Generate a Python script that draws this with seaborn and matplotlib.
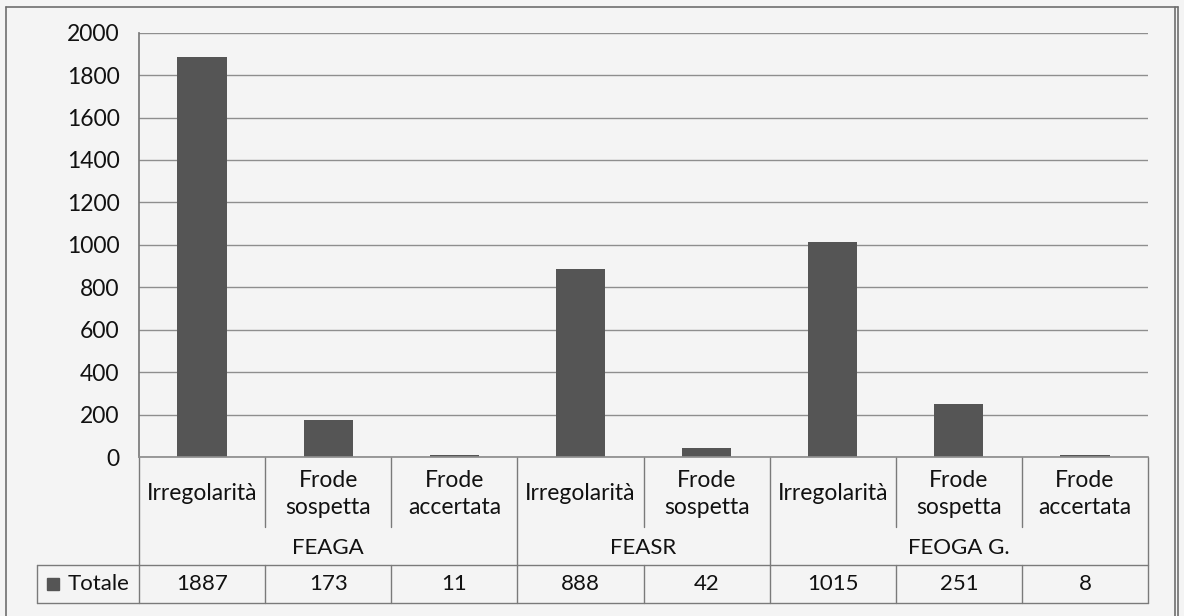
import matplotlib.pyplot as plt
import matplotlib.transforms as mtransforms
import pandas as pd
import seaborn as sns
from matplotlib.lines import Line2D

# Data
groups = ["FEAGA", "FEAGA", "FEAGA", "FEASR", "FEASR", "FEOGA G.", "FEOGA G.", "FEOGA G."]
categories = ["Irregolarità", "Frode\nsospetta", "Frode\naccertata",
              "Irregolarità", "Frode\nsospetta",
              "Irregolarità", "Frode\nsospetta", "Frode\naccertata"]
totals = [1887, 173, 11, 888, 42, 1015, 251, 8]
series_name = "Totale"
y_ticks = list(range(0, 2001, 200))

BG = "#f4f4f4"
BAR = "#555555"
GRID = "#8e8e8e"
LINE = "#7a7a7a"
TEXT = "#111111"

sns.set_theme(style="white")
plt.rcParams["font.family"] = ["Lato", "DejaVu Sans"]

df = pd.DataFrame({
    "key": [f"{g}|{c}" for g, c in zip(groups, categories)],
    "value": totals,
})

fig, ax = plt.subplots(figsize=(11.84, 6.16), dpi=100)
fig.patch.set_facecolor(BG)
ax.set_facecolor(BG)
fig.subplots_adjust(left=0.1174, right=0.9696, bottom=0.2581, top=0.9469)

sns.barplot(data=df, x="key", y="value", color=BAR, saturation=1, width=0.39,
            linewidth=0, ax=ax)

ax.set_xlim(-0.5, len(df) - 0.5)
ax.set_ylim(0, 2000)
ax.set_yticks(y_ticks)
ax.set_xlabel("")
ax.set_ylabel("")
ax.yaxis.grid(True, color=GRID, lw=1)
ax.set_axisbelow(True)
ax.tick_params(axis="x", length=0, labelbottom=False)
ax.tick_params(axis="y", length=5, width=1, color=GRID, pad=9, labelsize=16.5, labelcolor=TEXT)
for side in ["top", "right"]:
    ax.spines[side].set_visible(False)
ax.spines["left"].set_color(LINE)
ax.spines["bottom"].set_color(GRID)

# Data table under the axis (x in data units, y in axes fraction)
trans = mtransforms.blended_transform_factory(ax.transData, ax.transAxes)
row_top, row_bot, inner_bot = -0.2545, -0.344, -0.165
line_kw = dict(color=LINE, lw=1, clip_on=False)

n = len(df)
bounds = [-0.5] + [i - 0.5 for i in range(1, n) if groups[i] != groups[i - 1]] + [n - 0.5]
for i in range(1, n):
    bottom = row_bot if (i - 0.5) in bounds else inner_bot
    ax.add_line(Line2D([i - 0.5, i - 0.5], [0, bottom], transform=trans, **line_kw))
for i in range(1, n):
    if (i - 0.5) not in bounds:
        ax.add_line(Line2D([i - 0.5, i - 0.5], [row_top, row_bot], transform=trans, **line_kw))
ax.add_line(Line2D([-0.5, -0.5], [0, row_bot], transform=trans, **line_kw))
ax.add_line(Line2D([n - 0.5, n - 0.5], [0, row_bot], transform=trans, **line_kw))

left_edge = -0.1011
for yy in (row_top, row_bot):
    ax.add_line(Line2D([left_edge, 1.0], [yy, yy], transform=ax.transAxes, **line_kw))
ax.add_line(Line2D([left_edge, left_edge], [row_top, row_bot], transform=ax.transAxes, **line_kw))

for i, (cat, val) in enumerate(zip(categories, totals)):
    ax.text(i, -0.087, cat, transform=trans, ha="center", va="center",
            fontsize=16.5, color=TEXT, linespacing=1.35)
    ax.text(i, -0.2993, str(val), transform=trans, ha="center", va="center",
            fontsize=16, color=TEXT)

for lo, hi in zip(bounds[:-1], bounds[1:]):
    name = groups[int(lo + 0.5)]
    ax.text((lo + hi) / 2, -0.2145, name, transform=trans, ha="center", va="center",
            fontsize=16, color=TEXT)

ax.plot([-0.0857], [-0.2993], marker="s", ms=8.5, color=BAR, transform=ax.transAxes,
        clip_on=False)
ax.text(-0.0704, -0.2993, series_name, transform=ax.transAxes, ha="left", va="center",
        fontsize=16, color=TEXT)

# Outer chart border
W, H = 1184, 616
border_kw = dict(color="#6e6e6e", lw=1.2, transform=fig.transFigure)
fig.add_artist(Line2D([6 / W, 1178 / W], [1 - 7 / H, 1 - 7 / H], **border_kw))
fig.add_artist(Line2D([6 / W, 6 / W], [1 - 7 / H, 0], **border_kw))
fig.add_artist(Line2D([1175 / W, 1175 / W], [1 - 7 / H, 0], **border_kw))
fig.add_artist(Line2D([1178 / W, 1178 / W], [1 - 7 / H, 0], **border_kw))

fig.savefig("out.png", dpi=100, facecolor=BG)
